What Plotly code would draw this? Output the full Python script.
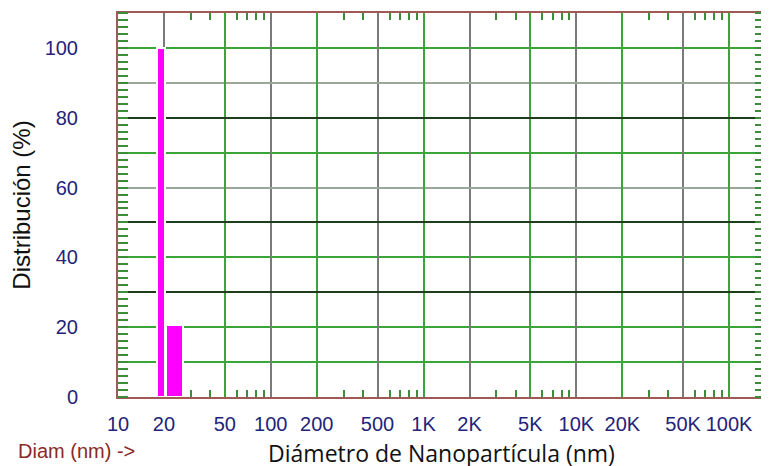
import plotly.graph_objects as go

# ---- data ----
bin_lo = [18.0, 20.5]          # nm, lower edge of each size bin
bin_hi = [20.3, 26.8]          # nm, upper edge of each size bin
distribution = [100, 20.5]     # %

x_tickvals = [10, 20, 50, 100, 200, 500, 1000, 2000, 5000, 10000, 20000, 50000, 100000]
x_ticktext = ["10", "20", "50", "100", "200", "500", "1K", "2K", "5K", "10K", "20K", "50K", "100K"]
x_grid_green = [50, 200, 1000, 5000, 20000, 100000]
x_grid_grey = [20, 100, 500, 2000, 10000, 50000]
x_minor = [30, 40, 60, 70, 80, 90, 300, 400, 600, 700, 800, 900,
           3000, 4000, 6000, 7000, 8000, 9000, 30000, 40000, 60000, 70000, 80000, 90000]

y_tickvals = [0, 10, 20, 30, 40, 50, 60, 70, 80, 90, 100, 110]
y_ticktext = ["0", "", "20", "", "40", "", "60", "", "80", "", "100", ""]
y_grid_dark = [30, 50, 80]
y_grid_grey = [60, 90]

centers = [(a + b) / 2 for a, b in zip(bin_lo, bin_hi)]
widths = [b - a for a, b in zip(bin_lo, bin_hi)]

navy = "#23237a"
frame = "#a05a55"
green = "#3aa63a"

fig = go.Figure()
fig.add_trace(go.Bar(
    x=centers, y=distribution, width=widths,
    marker=dict(color="#ff00ff", line=dict(color="white", width=2)),
    showlegend=False, hoverinfo="x+y",
))
# invisible traces to activate overlay axes used for differently-coloured grid lines
fig.add_trace(go.Scatter(x=[], y=[], xaxis="x2", yaxis="y2", showlegend=False))
fig.add_trace(go.Scatter(x=[], y=[], xaxis="x3", yaxis="y3", showlegend=False))

xr = [1, 5.235]
yr = [0, 110]

fig.update_layout(
    width=769, height=466,
    margin=dict(l=110, r=12, t=5, b=77),
    paper_bgcolor="white", plot_bgcolor="white",
    font=dict(family="Liberation Sans, Arial", color=navy),
    xaxis=dict(
        type="log", range=xr, automargin=False,
        tickvals=x_tickvals, ticktext=x_ticktext,
        tickfont=dict(size=20, color=navy),
        ticks="", ticklabelstandoff=8,
        showgrid=True, gridcolor=green, gridwidth=1.6,
        showline=True, linecolor=frame, linewidth=2, mirror="allticks",
        zeroline=False,
        minor=dict(tickvals=x_minor, ticks="inside", ticklen=7, tickwidth=2,
                   tickcolor="#3c8c3c", showgrid=False),
        title=dict(text="Diámetro de Nanopartícula (nm)",
                   font=dict(family="Open Sans", size=23, color="#111111"),
                   standoff=12),
    ),
    yaxis=dict(
        range=yr, automargin=False,
        tickvals=y_tickvals, ticktext=y_ticktext,
        tickfont=dict(size=20, color=navy),
        ticks="", ticklabelstandoff=34,
        showgrid=True, gridcolor=green, gridwidth=1.6,
        showline=True, linecolor=frame, linewidth=2, mirror="allticks",
        zeroline=False,
        minor=dict(dtick=2, ticks="inside", ticklen=10, tickwidth=2,
                   tickcolor="#3c8c3c", showgrid=False),
        title=dict(text="Distribución (%)",
                   font=dict(family="Liberation Sans, Arial", size=24, color="#111111"),
                   standoff=8),
    ),
    xaxis2=dict(type="log", range=xr, overlaying="x", tickvals=x_grid_grey, automargin=False,
                showticklabels=False, ticks="", showgrid=True,
                gridcolor="#7a7a7a", gridwidth=1.6, zeroline=False, showline=False),
    yaxis2=dict(range=yr, overlaying="y", tickvals=y_grid_grey, automargin=False,
                showticklabels=False, ticks="", showgrid=True,
                gridcolor="#9aa89a", gridwidth=1.6, zeroline=False, showline=False),
    xaxis3=dict(type="log", range=xr, overlaying="x", tickvals=x_grid_green, automargin=False,
                showticklabels=False, ticks="", showgrid=True,
                gridcolor=green, gridwidth=1.6, zeroline=False, showline=False),
    yaxis3=dict(range=yr, overlaying="y", tickvals=y_grid_dark, automargin=False,
                showticklabels=False, ticks="", showgrid=True,
                gridcolor="#1d3d1d", gridwidth=1.6, zeroline=False, showline=False),
    annotations=[dict(
        text="Diam (nm) ->", xref="paper", yref="paper",
        x=-0.158, y=-0.1406, xanchor="left", yanchor="middle",
        showarrow=False, font=dict(family="Liberation Sans, Arial", size=20, color="#8b2a2a"),
    )],
    bargap=0,
)

fig.write_html("out.html")
